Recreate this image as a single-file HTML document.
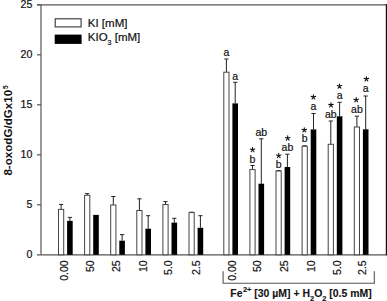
<!DOCTYPE html>
<html><head><meta charset="utf-8"><style>
html,body{margin:0;padding:0;background:#fff;}
svg{display:block;}
text{font-family:"Liberation Sans",sans-serif;fill:#111;stroke:#111;stroke-width:0.2px;}
.t11{font-size:11px;}
.yt{font-size:10.6px;}
.t105{font-size:10.5px;}
.t10{font-size:10.5px;}
.yl{font-size:11.6px;font-weight:bold;stroke-width:0;}
.st{font-size:13px;}
.lg{font-size:11.5px;}
.xb{font-size:10.45px;font-weight:bold;stroke-width:0.1px;}
</style></head><body>
<svg width="387" height="301" viewBox="0 0 387 301">
<rect width="387" height="301" fill="#fff"/>
<line x1="41.0" y1="4.800000000000011" x2="41.0" y2="254.8" stroke="#555" stroke-width="1.2"/>
<line x1="37" y1="254.8" x2="387" y2="254.8" stroke="#555" stroke-width="1.2"/>
<line x1="37" y1="4.800000000000011" x2="387" y2="4.800000000000011" stroke="#555" stroke-width="1.2"/>
<line x1="386.4" y1="4.300000000000011" x2="386.4" y2="255.3" stroke="#111" stroke-width="1.2"/>
<line x1="37" y1="4.800000000000011" x2="41.0" y2="4.800000000000011" stroke="#555" stroke-width="1.2"/>
<line x1="37" y1="54.80000000000001" x2="41.0" y2="54.80000000000001" stroke="#555" stroke-width="1.2"/>
<line x1="37" y1="104.80000000000001" x2="41.0" y2="104.80000000000001" stroke="#555" stroke-width="1.2"/>
<line x1="37" y1="154.8" x2="41.0" y2="154.8" stroke="#555" stroke-width="1.2"/>
<line x1="37" y1="204.8" x2="41.0" y2="204.8" stroke="#555" stroke-width="1.2"/>
<text x="32.3" y="8.30" text-anchor="end" class="yt">25</text>
<text x="32.3" y="58.30" text-anchor="end" class="yt">20</text>
<text x="32.3" y="108.30" text-anchor="end" class="yt">15</text>
<text x="32.3" y="158.30" text-anchor="end" class="yt">10</text>
<text x="32.3" y="208.30" text-anchor="end" class="yt">5</text>
<text x="32.3" y="258.30" text-anchor="end" class="yt">0</text>
<line x1="61.10" y1="209.40" x2="61.10" y2="204.40" stroke="#222" stroke-width="1"/>
<line x1="59.00" y1="204.40" x2="63.20" y2="204.40" stroke="#222" stroke-width="1"/>
<rect x="58.50" y="209.40" width="5.20" height="45.40" fill="#fff" stroke="#444" stroke-width="1"/>
<line x1="69.90" y1="220.90" x2="69.90" y2="217.40" stroke="#222" stroke-width="1"/>
<line x1="67.80" y1="217.40" x2="72.00" y2="217.40" stroke="#222" stroke-width="1"/>
<rect x="67.10" y="220.90" width="5.60" height="33.90" fill="#000"/>
<line x1="87.20" y1="195.30" x2="87.20" y2="193.60" stroke="#222" stroke-width="1"/>
<line x1="85.10" y1="193.60" x2="89.30" y2="193.60" stroke="#222" stroke-width="1"/>
<rect x="84.60" y="195.30" width="5.20" height="59.50" fill="#fff" stroke="#444" stroke-width="1"/>
<rect x="93.20" y="214.90" width="5.60" height="39.90" fill="#000"/>
<line x1="113.30" y1="205.00" x2="113.30" y2="196.50" stroke="#222" stroke-width="1"/>
<line x1="111.20" y1="196.50" x2="115.40" y2="196.50" stroke="#222" stroke-width="1"/>
<rect x="110.70" y="205.00" width="5.20" height="49.80" fill="#fff" stroke="#444" stroke-width="1"/>
<line x1="122.10" y1="240.70" x2="122.10" y2="234.60" stroke="#222" stroke-width="1"/>
<line x1="120.00" y1="234.60" x2="124.20" y2="234.60" stroke="#222" stroke-width="1"/>
<rect x="119.30" y="240.70" width="5.60" height="14.10" fill="#000"/>
<line x1="139.40" y1="210.50" x2="139.40" y2="198.80" stroke="#222" stroke-width="1"/>
<line x1="137.30" y1="198.80" x2="141.50" y2="198.80" stroke="#222" stroke-width="1"/>
<rect x="136.80" y="210.50" width="5.20" height="44.30" fill="#fff" stroke="#444" stroke-width="1"/>
<line x1="148.20" y1="228.70" x2="148.20" y2="215.70" stroke="#222" stroke-width="1"/>
<line x1="146.10" y1="215.70" x2="150.30" y2="215.70" stroke="#222" stroke-width="1"/>
<rect x="145.40" y="228.70" width="5.60" height="26.10" fill="#000"/>
<line x1="165.50" y1="204.50" x2="165.50" y2="201.60" stroke="#222" stroke-width="1"/>
<line x1="163.40" y1="201.60" x2="167.60" y2="201.60" stroke="#222" stroke-width="1"/>
<rect x="162.90" y="204.50" width="5.20" height="50.30" fill="#fff" stroke="#444" stroke-width="1"/>
<line x1="174.30" y1="222.60" x2="174.30" y2="218.30" stroke="#222" stroke-width="1"/>
<line x1="172.20" y1="218.30" x2="176.40" y2="218.30" stroke="#222" stroke-width="1"/>
<rect x="171.50" y="222.60" width="5.60" height="32.20" fill="#000"/>
<line x1="191.60" y1="212.60" x2="191.60" y2="212.20" stroke="#222" stroke-width="1"/>
<line x1="189.50" y1="212.20" x2="193.70" y2="212.20" stroke="#222" stroke-width="1"/>
<rect x="189.00" y="212.60" width="5.20" height="42.20" fill="#fff" stroke="#444" stroke-width="1"/>
<line x1="200.40" y1="227.80" x2="200.40" y2="215.70" stroke="#222" stroke-width="1"/>
<line x1="198.30" y1="215.70" x2="202.50" y2="215.70" stroke="#222" stroke-width="1"/>
<rect x="197.60" y="227.80" width="5.60" height="27.00" fill="#000"/>
<line x1="226.40" y1="72.20" x2="226.40" y2="59.00" stroke="#222" stroke-width="1"/>
<line x1="224.30" y1="59.00" x2="228.50" y2="59.00" stroke="#222" stroke-width="1"/>
<rect x="223.80" y="72.20" width="5.20" height="182.60" fill="#fff" stroke="#444" stroke-width="1"/>
<line x1="235.20" y1="103.40" x2="235.20" y2="82.30" stroke="#222" stroke-width="1"/>
<line x1="233.10" y1="82.30" x2="237.30" y2="82.30" stroke="#222" stroke-width="1"/>
<rect x="232.40" y="103.40" width="5.60" height="151.40" fill="#000"/>
<line x1="252.50" y1="169.60" x2="252.50" y2="165.50" stroke="#222" stroke-width="1"/>
<line x1="250.40" y1="165.50" x2="254.60" y2="165.50" stroke="#222" stroke-width="1"/>
<rect x="249.90" y="169.60" width="5.20" height="85.20" fill="#fff" stroke="#444" stroke-width="1"/>
<line x1="261.30" y1="183.70" x2="261.30" y2="138.80" stroke="#222" stroke-width="1"/>
<line x1="259.20" y1="138.80" x2="263.40" y2="138.80" stroke="#222" stroke-width="1"/>
<rect x="258.50" y="183.70" width="5.60" height="71.10" fill="#000"/>
<line x1="278.60" y1="171.00" x2="278.60" y2="170.60" stroke="#222" stroke-width="1"/>
<line x1="276.50" y1="170.60" x2="280.70" y2="170.60" stroke="#222" stroke-width="1"/>
<rect x="276.00" y="171.00" width="5.20" height="83.80" fill="#fff" stroke="#444" stroke-width="1"/>
<line x1="287.40" y1="167.00" x2="287.40" y2="154.20" stroke="#222" stroke-width="1"/>
<line x1="285.30" y1="154.20" x2="289.50" y2="154.20" stroke="#222" stroke-width="1"/>
<rect x="284.60" y="167.00" width="5.60" height="87.80" fill="#000"/>
<line x1="304.70" y1="146.30" x2="304.70" y2="145.80" stroke="#222" stroke-width="1"/>
<line x1="302.60" y1="145.80" x2="306.80" y2="145.80" stroke="#222" stroke-width="1"/>
<rect x="302.10" y="146.30" width="5.20" height="108.50" fill="#fff" stroke="#444" stroke-width="1"/>
<line x1="313.50" y1="129.40" x2="313.50" y2="113.50" stroke="#222" stroke-width="1"/>
<line x1="311.40" y1="113.50" x2="315.60" y2="113.50" stroke="#222" stroke-width="1"/>
<rect x="310.70" y="129.40" width="5.60" height="125.40" fill="#000"/>
<line x1="330.80" y1="144.30" x2="330.80" y2="121.00" stroke="#222" stroke-width="1"/>
<line x1="328.70" y1="121.00" x2="332.90" y2="121.00" stroke="#222" stroke-width="1"/>
<rect x="328.20" y="144.30" width="5.20" height="110.50" fill="#fff" stroke="#444" stroke-width="1"/>
<line x1="339.60" y1="116.30" x2="339.60" y2="102.30" stroke="#222" stroke-width="1"/>
<line x1="337.50" y1="102.30" x2="341.70" y2="102.30" stroke="#222" stroke-width="1"/>
<rect x="336.80" y="116.30" width="5.60" height="138.50" fill="#000"/>
<line x1="356.90" y1="127.00" x2="356.90" y2="116.20" stroke="#222" stroke-width="1"/>
<line x1="354.80" y1="116.20" x2="359.00" y2="116.20" stroke="#222" stroke-width="1"/>
<rect x="354.30" y="127.00" width="5.20" height="127.80" fill="#fff" stroke="#444" stroke-width="1"/>
<line x1="365.70" y1="129.30" x2="365.70" y2="96.00" stroke="#222" stroke-width="1"/>
<line x1="363.60" y1="96.00" x2="367.80" y2="96.00" stroke="#222" stroke-width="1"/>
<rect x="362.90" y="129.30" width="5.60" height="125.50" fill="#000"/>
<text transform="translate(67.75,260.3) rotate(-90)" text-anchor="end" class="t105">0.00</text>
<text transform="translate(93.85,260.3) rotate(-90)" text-anchor="end" class="t105">50</text>
<text transform="translate(119.75,260.3) rotate(-90)" text-anchor="end" class="t105">25</text>
<text transform="translate(147.35,260.3) rotate(-90)" text-anchor="end" class="t105">10</text>
<text transform="translate(172.45,260.3) rotate(-90)" text-anchor="end" class="t105">5.0</text>
<text transform="translate(200.15,260.3) rotate(-90)" text-anchor="end" class="t105">2.5</text>
<text transform="translate(235.75,260.3) rotate(-90)" text-anchor="end" class="t105">0.00</text>
<text transform="translate(261.35,260.3) rotate(-90)" text-anchor="end" class="t105">50</text>
<text transform="translate(287.85,260.3) rotate(-90)" text-anchor="end" class="t105">25</text>
<text transform="translate(314.55,260.3) rotate(-90)" text-anchor="end" class="t105">10</text>
<text transform="translate(340.75,260.3) rotate(-90)" text-anchor="end" class="t105">5.0</text>
<text transform="translate(365.75,260.3) rotate(-90)" text-anchor="end" class="t105">2.5</text>
<text x="226.40" y="56.20" text-anchor="middle" class="t10">a</text>
<text x="235.20" y="80.40" text-anchor="middle" class="t10">a</text>
<text x="252.50" y="162.60" text-anchor="middle" class="t10">b</text>
<text x="261.30" y="135.60" text-anchor="middle" class="t10">ab</text>
<text x="278.60" y="168.00" text-anchor="middle" class="t10">b</text>
<text x="287.40" y="150.80" text-anchor="middle" class="t10">ab</text>
<text x="304.70" y="142.30" text-anchor="middle" class="t10">b</text>
<text x="313.50" y="110.00" text-anchor="middle" class="t10">a</text>
<text x="330.80" y="117.60" text-anchor="middle" class="t10">ab</text>
<text x="339.60" y="99.00" text-anchor="middle" class="t10">a</text>
<text x="356.90" y="113.00" text-anchor="middle" class="t10">ab</text>
<text x="365.70" y="92.40" text-anchor="middle" class="t10">a</text>
<path d="M252.60,149.80L252.60,147.45M252.60,149.80L254.83,149.07M252.60,149.80L253.98,151.70M252.60,149.80L251.22,151.70M252.60,149.80L250.37,149.07" stroke="#111" stroke-width="1.1" stroke-linecap="round" fill="none"/>
<path d="M278.70,155.70L278.70,153.35M278.70,155.70L280.93,154.97M278.70,155.70L280.08,157.60M278.70,155.70L277.32,157.60M278.70,155.70L276.47,154.97" stroke="#111" stroke-width="1.1" stroke-linecap="round" fill="none"/>
<path d="M287.70,138.20L287.70,135.85M287.70,138.20L289.93,137.47M287.70,138.20L289.08,140.10M287.70,138.20L286.32,140.10M287.70,138.20L285.47,137.47" stroke="#111" stroke-width="1.1" stroke-linecap="round" fill="none"/>
<path d="M304.30,130.10L304.30,127.75M304.30,130.10L306.53,129.37M304.30,130.10L305.68,132.00M304.30,130.10L302.92,132.00M304.30,130.10L302.07,129.37" stroke="#111" stroke-width="1.1" stroke-linecap="round" fill="none"/>
<path d="M313.40,97.10L313.40,94.75M313.40,97.10L315.63,96.37M313.40,97.10L314.78,99.00M313.40,97.10L312.02,99.00M313.40,97.10L311.17,96.37" stroke="#111" stroke-width="1.1" stroke-linecap="round" fill="none"/>
<path d="M331.00,105.10L331.00,102.75M331.00,105.10L333.23,104.37M331.00,105.10L332.38,107.00M331.00,105.10L329.62,107.00M331.00,105.10L328.77,104.37" stroke="#111" stroke-width="1.1" stroke-linecap="round" fill="none"/>
<path d="M339.50,86.30L339.50,83.95M339.50,86.30L341.73,85.57M339.50,86.30L340.88,88.20M339.50,86.30L338.12,88.20M339.50,86.30L337.27,85.57" stroke="#111" stroke-width="1.1" stroke-linecap="round" fill="none"/>
<path d="M356.20,99.90L356.20,97.55M356.20,99.90L358.43,99.17M356.20,99.90L357.58,101.80M356.20,99.90L354.82,101.80M356.20,99.90L353.97,99.17" stroke="#111" stroke-width="1.1" stroke-linecap="round" fill="none"/>
<path d="M366.40,79.10L366.40,76.75M366.40,79.10L368.63,78.37M366.40,79.10L367.78,81.00M366.40,79.10L365.02,81.00M366.40,79.10L364.17,78.37" stroke="#111" stroke-width="1.1" stroke-linecap="round" fill="none"/>
<rect x="55.2" y="18.8" width="25.9" height="8.1" fill="#fff" stroke="#333" stroke-width="1.1"/>
<rect x="54.7" y="34.6" width="26.9" height="9.3" fill="#000"/>
<text x="87.8" y="26.6" class="lg">KI [mM]</text>
<text x="87.8" y="41.1" class="lg">KIO<tspan font-size="7" dy="3.5">3</tspan><tspan dy="-3.5"> [mM]</tspan></text>
<text transform="translate(11.6,175.6) rotate(-90)" class="yl">8-oxodG/dGx10<tspan font-size="6.5" dx="0.9" dy="-4.0">5</tspan></text>
<polyline points="223.1,271.3 223.1,283.2 374.3,283.2 374.3,271.3" fill="none" stroke="#555" stroke-width="1.1"/>
<text x="230.3" y="297.1" class="xb">Fe<tspan font-size="7.5" dx="0.4" dy="-4.9">2+</tspan><tspan dy="4.9"> [30 µM] + H</tspan><tspan font-size="7.5" dy="4">2</tspan><tspan dy="-4">O</tspan><tspan font-size="7.5" dy="4">2</tspan><tspan dy="-4"> [0.5 mM]</tspan></text>
</svg>
</body></html>
